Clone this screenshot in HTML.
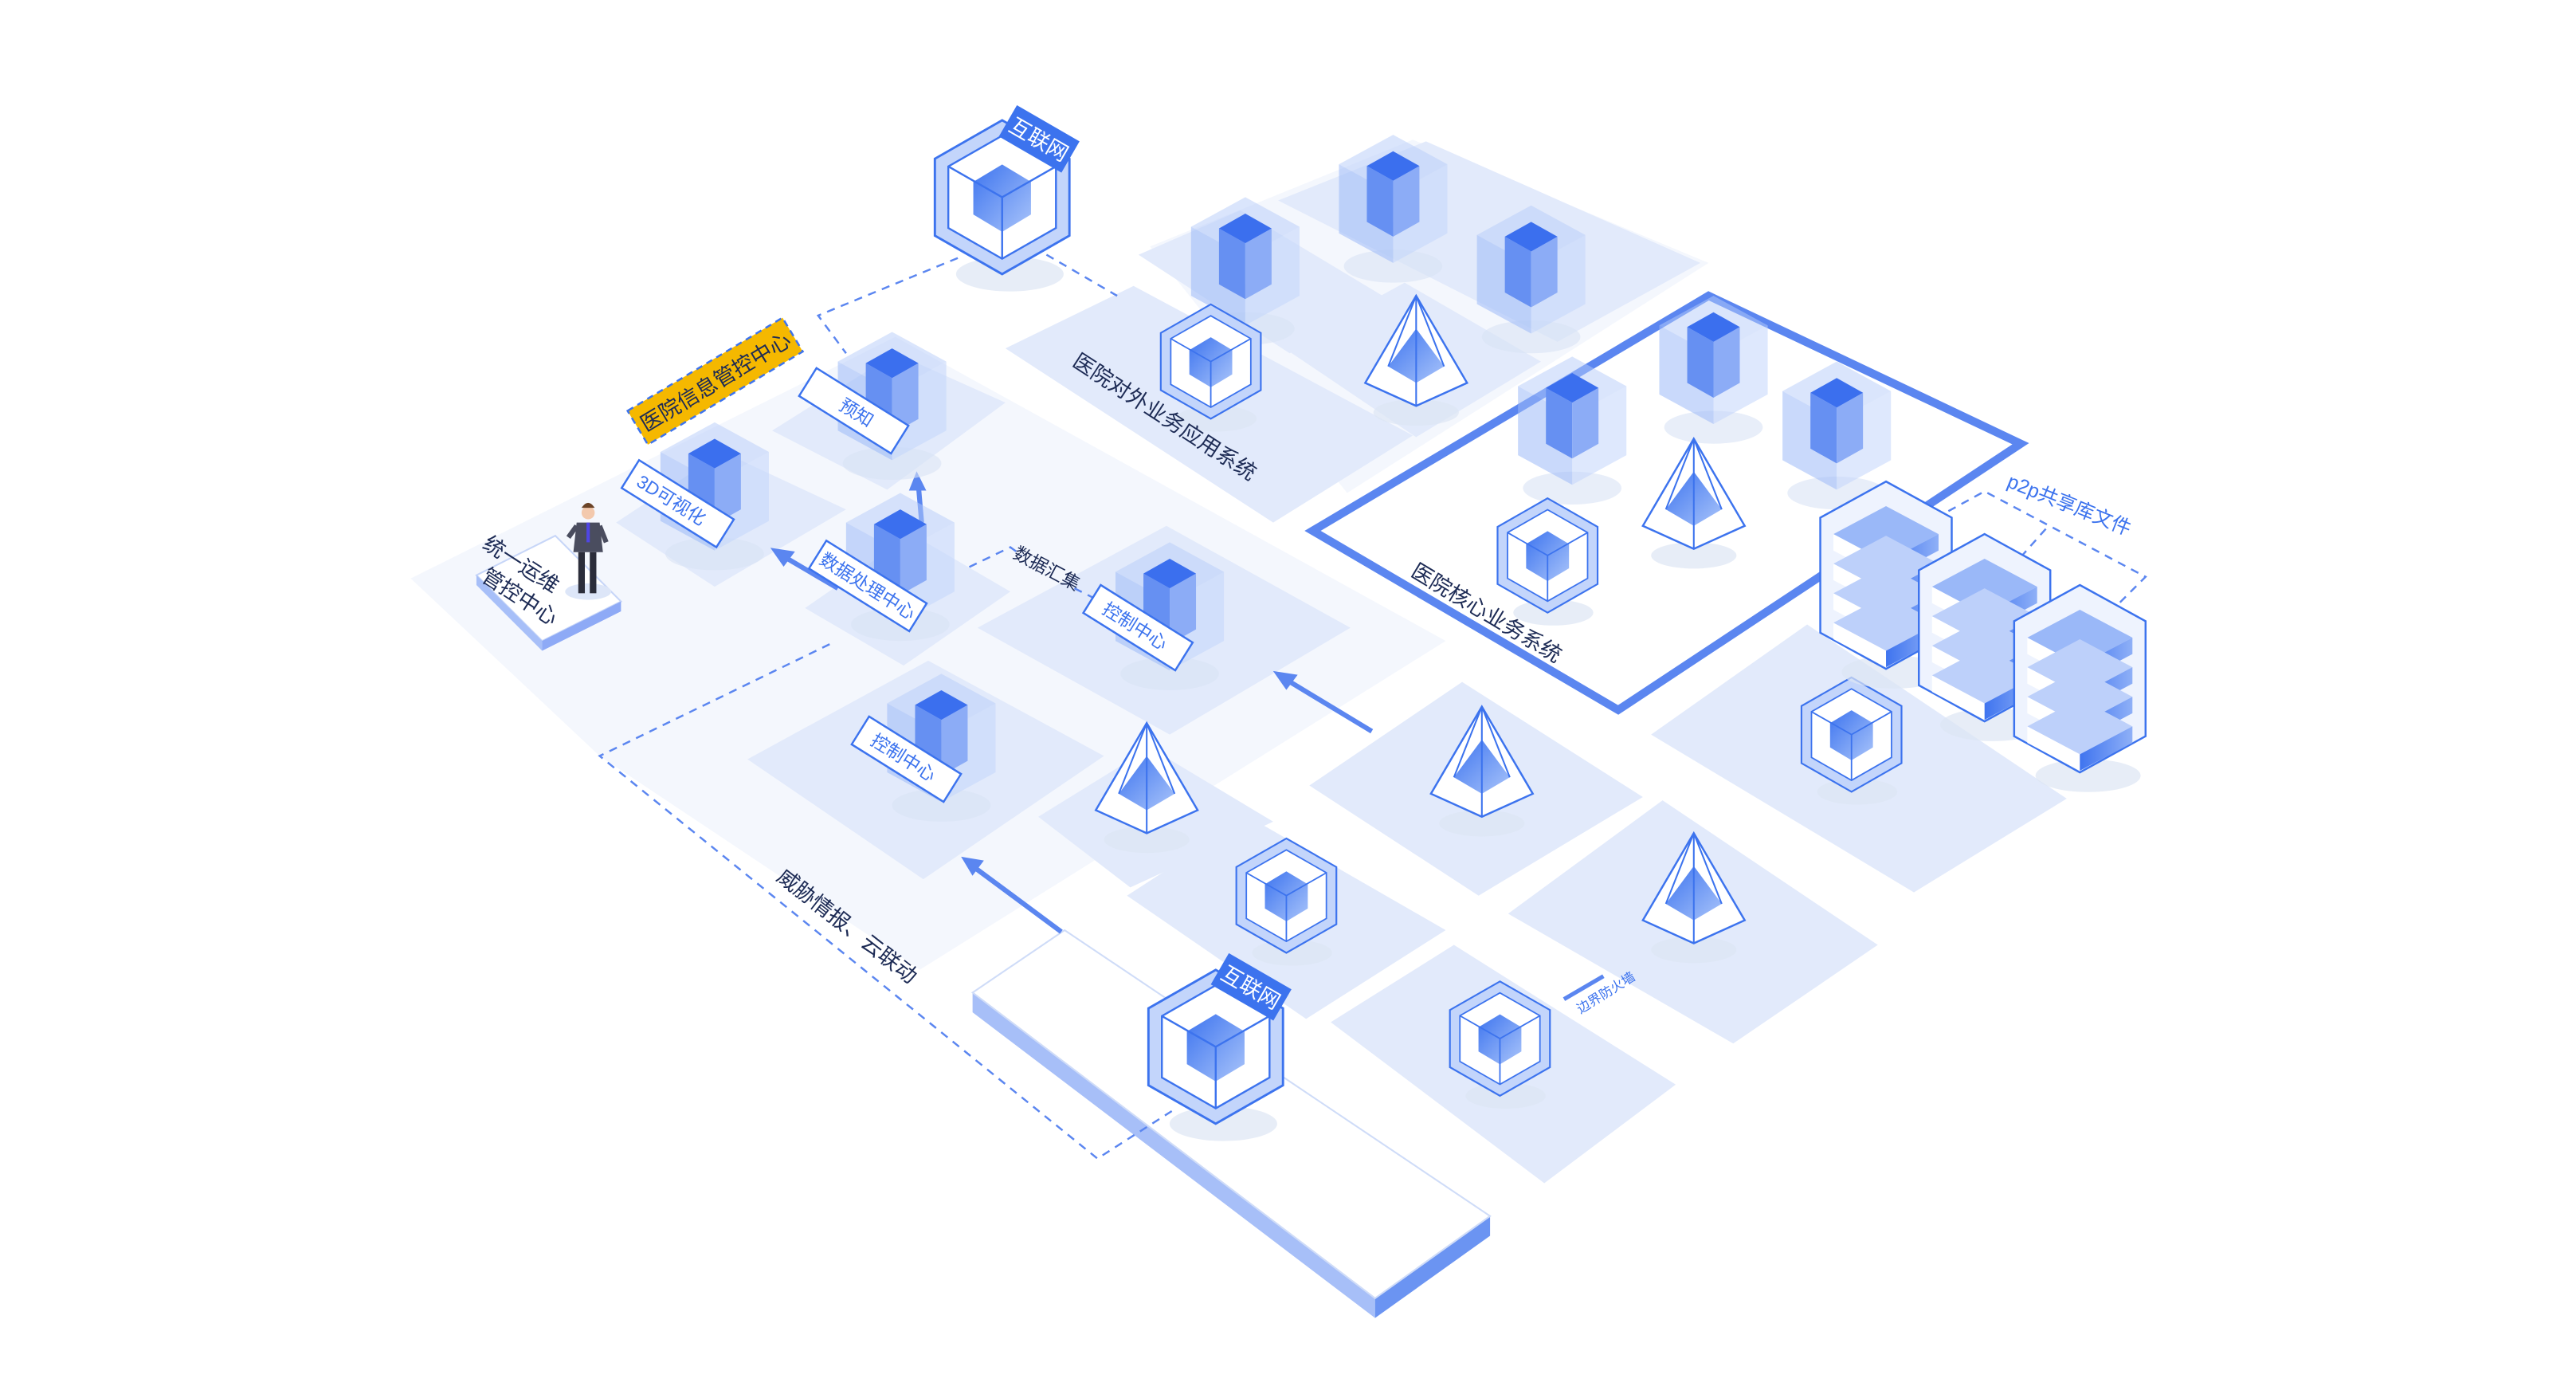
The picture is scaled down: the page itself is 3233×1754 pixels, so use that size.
<!DOCTYPE html>
<html><head><meta charset="utf-8"><style>
html,body{margin:0;padding:0;background:#fff;}
svg{display:block;}
text{font-family:"Liberation Sans","Noto Sans CJK SC",sans-serif;}
</style></head><body>
<svg width="3233" height="1754" viewBox="0 0 1568 850.7" preserveAspectRatio="none" xmlns="http://www.w3.org/2000/svg">
<defs>
<linearGradient id="cg" x1="0" y1="0" x2="1" y2="1"><stop offset="0" stop-color="#3d74ef"/><stop offset="1" stop-color="#a9c4fa"/></linearGradient>
<linearGradient id="sg" x1="0" y1="0" x2="1" y2="0"><stop offset="0" stop-color="#3f74ef"/><stop offset="1" stop-color="#8fb0f7"/></linearGradient>
<g id="prism">
<ellipse cx="0" cy="40" rx="30" ry="10" fill="#d8e2f5" opacity=".6"/>
<polygon points="-33,-22 0,-4 0,38 -33,20" fill="#9cb9f7" opacity=".55"/>
<polygon points="0,-4 33,-22 33,20 0,38" fill="#c3d5fb" opacity=".55"/>
<polygon points="0,-40 33,-22 0,-4 -33,-22" fill="#b5cbfa" opacity=".5"/>
<polygon points="-16,-21 0,-12 0,22 -16,13" fill="#6690f2"/>
<polygon points="0,-12 16,-21 16,13 0,22" fill="#8cacf6"/>
<polygon points="0,-30 16,-21 0,-12 -16,-21" fill="#3b6fee"/>
</g>
<g id="hex">
<ellipse cx="4" cy="40" rx="28" ry="9" fill="#dde5f4" opacity=".7"/>
<polygon points="0,-40 35,-20 35,20 0,40 -35,20 -35,-20" fill="#c3d5fb" stroke="#3c73ee" stroke-width="1.2"/>
<polygon points="0,-32 28,-16 28,16 0,32 -28,16 -28,-16" fill="#fff" stroke="#3c73ee" stroke-width="1"/>
<polygon points="0,-17 15,-8 15,9 0,18 -15,9 -15,-8" fill="url(#cg)"/>
<path d="M0,0 L0,32 M0,0 L28,-16 M0,0 L-28,-16" stroke="#3c73ee" stroke-width="1"/>
</g>
<g id="pyr">
<ellipse cx="0" cy="36" rx="26" ry="8" fill="#dde5f4" opacity=".7"/>
<polygon points="0,-35 31,18 0,32 -31,18" fill="#fff" stroke="#3c73ee" stroke-width="1.2"/>
<polygon points="0,-15 17,8 0,18 -17,8" fill="url(#cg)"/>
<path d="M0,-35 L0,32 M0,-35 L-17,8 M0,-35 L17,8" stroke="#3c73ee" stroke-width="1" fill="none"/>
</g>
<g id="srv">
<ellipse cx="5" cy="64" rx="32" ry="10" fill="#dde5f4" opacity=".7"/>
<polygon points="0,-52 40,-30 40,40 0,62 -40,40 -40,-30" fill="#eef3fe" stroke="#3c73ee" stroke-width="1.2"/>
<polygon points="-32,-20 0,-37 32,-20 0,-3" fill="#9ab8f8"/><polygon points="-32,-20 0,-3 0,7 -32,-10" fill="#fff"/><polygon points="0,-3 32,-20 32,-10 0,7" fill="url(#sg)"/>
<polygon points="-32,-2 0,-19 32,-2 0,15" fill="#bdd0fa"/><polygon points="-32,-2 0,15 0,25 -32,8" fill="#fff"/><polygon points="0,15 32,-2 32,8 0,25" fill="url(#sg)"/>
<polygon points="-32,16 0,-1 32,16 0,33" fill="#bdd0fa"/><polygon points="-32,16 0,33 0,43 -32,26" fill="#fff"/><polygon points="0,33 32,16 32,26 0,43" fill="url(#sg)"/>
<polygon points="-32,34 0,17 32,34 0,51" fill="#bdd0fa"/><polygon points="-32,34 0,51 0,61 -32,44" fill="#fff"/><polygon points="0,51 32,34 32,44 0,61" fill="url(#sg)"/>
</g>
</defs>

<polygon points="250,352 545,205 880,390 720,490 560,590 365,460" fill="#f4f7fd"/>
<polygon points="700,150 860,85 1040,160 820,300" fill="#f4f7fd"/>

<g fill="#e2eafb">
<polygon points="778,122 868,86 1035,160 948,208"/>
<polygon points="693,155 755,128 850,185 785,215"/>
<polygon points="612,212 690,174 860,265 775,318"/>
<polygon points="782,212 855,172 938,220 862,266"/>
<polygon points="470,262 545,215 612,245 540,298"/>
<polygon points="375,318 440,275 515,310 435,357"/>
<polygon points="490,370 555,325 615,360 550,405"/>
<polygon points="595,382 710,320 822,382 712,447"/>
<polygon points="455,462 565,402 672,460 562,535"/>
<polygon points="632,497 700,455 775,500 688,540"/>
<polygon points="797,478 890,415 1000,485 900,545"/>
<polygon points="686,545 760,497 880,566 795,620"/>
<polygon points="918,556 1012,487 1143,575 1055,635"/>
<polygon points="810,622 885,575 1020,660 940,720"/>
<polygon points="1005,447 1100,380 1258,486 1165,543"/>
</g>

<polygon points="799,323 1040,180 1230,270 985,432" fill="#fff" fill-opacity=".9" stroke="#5b86f0" stroke-width="5"/>

<polygon points="592,604 837,790 837,802 592,616" fill="#a7bff8"/>
<polygon points="837,790 907,740 907,752 837,802" fill="#6b94f2"/>
<polygon points="592,604 648,566 907,740 837,790" fill="#fff" stroke="#cfdcf8" stroke-width="1"/>

<g fill="none" stroke="#5b86f0" stroke-width="1.2" stroke-dasharray="5,4">
<polyline points="583,157 498,192 515,215"/>
<line x1="637" y1="155" x2="680" y2="180"/>
<polyline points="505,392 365,460 668,705 715,675"/>
<polyline points="590,345 615,333 622,338"/>
<polyline points="654,358 678,370"/>
<polyline points="1186,311 1208,299 1306,351 1284,373"/>
<line x1="1230" y1="339" x2="1246" y2="321"/>
</g>

<g stroke="#5b86f0" stroke-width="3" fill="#5b86f0">
<line x1="646" y1="567" x2="592" y2="527"/><polygon points="586,522 598,524 592,532" stroke-width="1"/>
<line x1="835" y1="445" x2="782" y2="413"/><polygon points="776,409 789,411 783,419" stroke-width="1"/>
<line x1="510" y1="358" x2="476" y2="338"/><polygon points="470,334 483,336 477,344" stroke-width="1"/>
<line x1="561" y1="318" x2="559" y2="295"/><polygon points="558,288 554,298 563,298" stroke-width="1"/>
<line x1="952" y1="608" x2="976" y2="594" stroke-width="2.5"/>
</g>

<use href="#prism" x="848" y="122"/>
<use href="#prism" x="932" y="165"/>
<use href="#prism" x="758" y="160"/>
<use href="#prism" x="957" y="257"/>
<use href="#prism" x="1043" y="220"/>
<use href="#prism" x="1118" y="260"/>
<use href="#prism" x="543" y="242"/>
<use href="#prism" x="435" y="297"/>
<use href="#prism" x="548" y="340"/>
<use href="#prism" x="712" y="370"/>
<use href="#prism" x="573" y="450"/>

<g transform="translate(737,220) scale(.87)"><use href="#hex"/></g>
<g transform="translate(942,338) scale(.87)"><use href="#hex"/></g>
<g transform="translate(1127,447) scale(.87)"><use href="#hex"/></g>
<g transform="translate(783,545) scale(.87)"><use href="#hex"/></g>
<g transform="translate(913,632) scale(.87)"><use href="#hex"/></g>
<g transform="translate(610,120) scale(1.17)"><use href="#hex"/></g>
<g transform="translate(740,637) scale(1.17)"><use href="#hex"/></g>

<use href="#pyr" x="862" y="215"/>
<use href="#pyr" x="1031" y="302"/>
<use href="#pyr" x="698" y="475"/>
<use href="#pyr" x="902" y="465"/>
<use href="#pyr" x="1031" y="542"/>

<use href="#srv" x="1148" y="345"/>
<use href="#srv" x="1208" y="377"/>
<use href="#srv" x="1266" y="408"/>

<g transform="translate(619,64) rotate(30)"><rect x="0" y="0" width="44" height="22" fill="#3c73ee"/><text x="22" y="16" font-size="13" fill="#fff" text-anchor="middle">互联网</text></g>
<g transform="translate(748,580) rotate(30)"><rect x="0" y="0" width="44" height="22" fill="#3c73ee"/><text x="22" y="16" font-size="13" fill="#fff" text-anchor="middle">互联网</text></g>

<g font-size="11" fill="#3c73ee">
<g transform="translate(497,224) rotate(32)"><rect width="66" height="20" fill="#fff" stroke="#3c73ee" stroke-width="1.2"/><text x="24" y="14">预知</text></g>
<g transform="translate(389,280) rotate(32)"><rect width="68" height="20" fill="#fff" stroke="#3c73ee" stroke-width="1.2"/><text x="6" y="14">3D可视化</text></g>
<g transform="translate(503,329) rotate(32)"><rect width="72" height="20" fill="#fff" stroke="#3c73ee" stroke-width="1.2"/><text x="3" y="14">数据处理中心</text></g>
<g transform="translate(670,356) rotate(32)"><rect width="66" height="20" fill="#fff" stroke="#3c73ee" stroke-width="1.2"/><text x="9" y="14">控制中心</text></g>
<g transform="translate(529,436) rotate(32)"><rect width="66" height="20" fill="#fff" stroke="#3c73ee" stroke-width="1.2"/><text x="9" y="14">控制中心</text></g>
</g>

<g transform="translate(382,250) rotate(-31)"><rect width="110" height="24" fill="#f5b800" stroke="#3c73ee" stroke-width="1.2" stroke-dasharray="4,3"/><text x="55" y="17" font-size="13" fill="#1d2b55" text-anchor="middle">医院信息管控中心</text></g>

<polygon points="290,350 338,326 378,366 330,390" fill="#fff" stroke="#c7d6f8"/>
<polygon points="290,350 330,390 330,396 290,356" fill="#a7bff8"/>
<polygon points="330,390 378,366 378,372 330,396" fill="#8eaaf6"/>
<ellipse cx="358" cy="360" rx="14" ry="5" fill="#dde6f8"/>
<g>
<circle cx="358" cy="312" r="4" fill="#f3c9ad"/><path d="M354,309 q4,-6 8,0" fill="#6b4428"/>
<polygon points="351,318 365,318 367,336 349,336" fill="#4a4d5f"/>
<rect x="357" y="318" width="2" height="12" fill="#4f46e5"/>
<line x1="351" y1="320" x2="346" y2="327" stroke="#4a4d5f" stroke-width="3"/>
<line x1="365" y1="320" x2="369" y2="330" stroke="#4a4d5f" stroke-width="3"/>
<rect x="352" y="336" width="4" height="25" fill="#2b2d3a"/><rect x="359" y="336" width="4" height="25" fill="#2b2d3a"/>
</g>
<g transform="translate(293,333) rotate(33)" font-size="13" fill="#1d2b55"><text>统一运维</text><text x="10" y="17">管控中心</text></g>

<g font-size="13" fill="#1d2b55">
<text transform="translate(652,222) rotate(33)">医院对外业务应用系统</text>
<text transform="translate(858,350) rotate(31)">医院核心业务系统</text>
<text transform="translate(616,339) rotate(28)" font-size="11">数据汇集</text>
<text transform="translate(472,535) rotate(38)">威胁情报、云联动</text>
</g>
<text transform="translate(1221,296) rotate(22)" font-size="12" fill="#3c73ee">p2p共享库文件</text>
<text transform="translate(962,617) rotate(-32)" font-size="8" fill="#3c73ee">边界防火墙</text>
</svg>
</body></html>
